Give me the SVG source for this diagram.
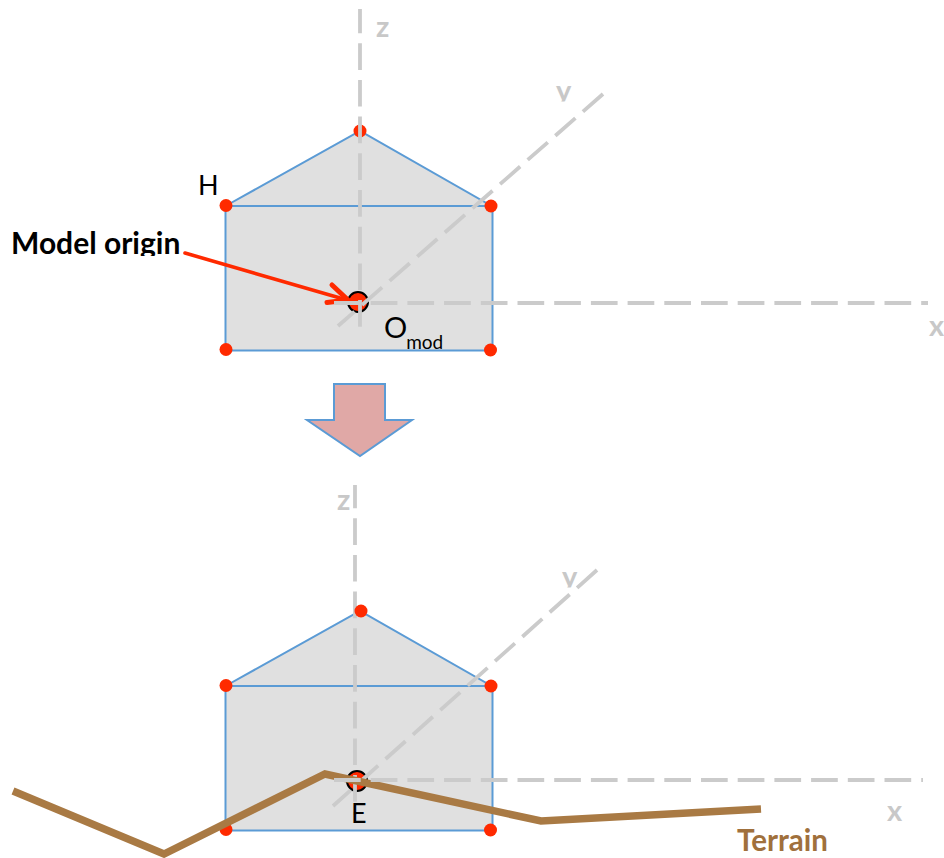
<svg xmlns="http://www.w3.org/2000/svg" width="944" height="858" viewBox="0 0 944 858">
<style>
.body{fill:#e0e0e0;stroke:#5b9bd5;stroke-width:2;stroke-linejoin:miter}
.dot{fill:#ff2a00}
.origin{fill:#ff2a00;stroke:#000;stroke-width:2}
.axis{fill:none;stroke:#cbcbcb;stroke-width:3.800;stroke-dasharray:26.700 10}
.axl{font:bold 29px Lato,"Liberation Sans",sans-serif;fill:#c8c8c8}
.lbl{font:27px Lato,"Liberation Sans",sans-serif;fill:#000}
</style>
<defs>
<clipPath id="clipY1"><rect x="550" y="75" width="30" height="26.500"/></clipPath>
<clipPath id="clipY2"><rect x="555" y="560" width="30" height="27.500"/></clipPath>
<clipPath id="clipM"><rect x="5" y="225" width="180" height="31"/></clipPath>
</defs>
<g id="house-top">
<path class="body" d="M225.500 206 L360 131 L491.500 206 Z"/>
<rect class="body" x="225.500" y="206" width="267" height="144.500"/>
<circle class="dot" cx="360" cy="131" r="6.500"/>
<circle class="dot" cx="226" cy="205.500" r="6.500"/>
<circle class="dot" cx="491" cy="206" r="6.500"/>
<circle class="dot" cx="226" cy="349.500" r="6.500"/>
<circle class="dot" cx="490.500" cy="350" r="6.500"/>
<circle class="origin" cx="358" cy="302" r="10"/>
</g>
<g id="house-bottom">
<path class="body" d="M225.500 686 L360 611 L491.500 686 Z"/>
<rect class="body" x="225.500" y="686" width="267" height="144.500"/>
<circle class="dot" cx="226" cy="685.500" r="6.500"/>
<circle class="dot" cx="491" cy="686" r="6.500"/>
<circle class="dot" cx="226" cy="829.500" r="6.500"/>
<circle class="dot" cx="490.500" cy="830" r="6.500"/>
<circle class="origin" cx="357" cy="781" r="10"/>
</g>
<g id="connectors">
<path d="M185 253 L347 300" fill="none" stroke="#ff2a00" stroke-width="3.600" stroke-linecap="round"/>
<path d="M332 285 L348 300 L327 302.500" fill="none" stroke="#ff2a00" stroke-width="5" stroke-linecap="round" stroke-linejoin="round"/>
<path class="axis" d="M360 9 V336" stroke-dashoffset="2.500"/>
<path class="axis" d="M603 94 L338 326"/>
<path class="axis" d="M334 303 H928"/>
<path class="axis" d="M355 485 V815" stroke-dashoffset="3.500"/>
<path class="axis" d="M597 570 L333 806"/>
<path id="terrain" d="M13 791 L164 854 L325 774 L541 821 L761 809" fill="none" stroke="#a97a44" stroke-width="7.500"/>
<path class="axis" d="M334 780 H923"/>
</g>
<g id="apex-bottom"><circle class="dot" cx="361" cy="611" r="6.500"/></g>
<g id="labels">
<text class="axl" x="376" y="37">z</text>
<g clip-path="url(#clipY1)"><text class="axl" x="556" y="101">y</text></g>
<text class="axl" x="929" y="336">x</text>
<text class="axl" x="337" y="510">z</text>
<g clip-path="url(#clipY2)"><text class="axl" x="562" y="587">y</text></g>
<text class="axl" x="887" y="821">x</text>
<text class="lbl" x="198" y="195">H</text>
<text class="lbl" x="384" y="338" style="font-size:29px">O<tspan style="font-size:19px" dy="11" dx="-1">mod</tspan></text>
<text class="lbl" x="351" y="823">E</text>
<g clip-path="url(#clipM)"><text x="11" y="254" style="font:bold 30px Lato,'Liberation Sans',sans-serif;fill:#000">Model origin</text></g>
<text x="737" y="851" style="font:bold 29.500px Lato,'Liberation Sans',sans-serif;fill:#a0703c">Terrain</text>
</g>
<g id="down-arrow">
<path d="M334 384 H385 V420 H412 L360 456 L307 420 H334 Z" fill="#e0a8a6" stroke="#5b9bd5" stroke-width="2"/>
</g>
</svg>
